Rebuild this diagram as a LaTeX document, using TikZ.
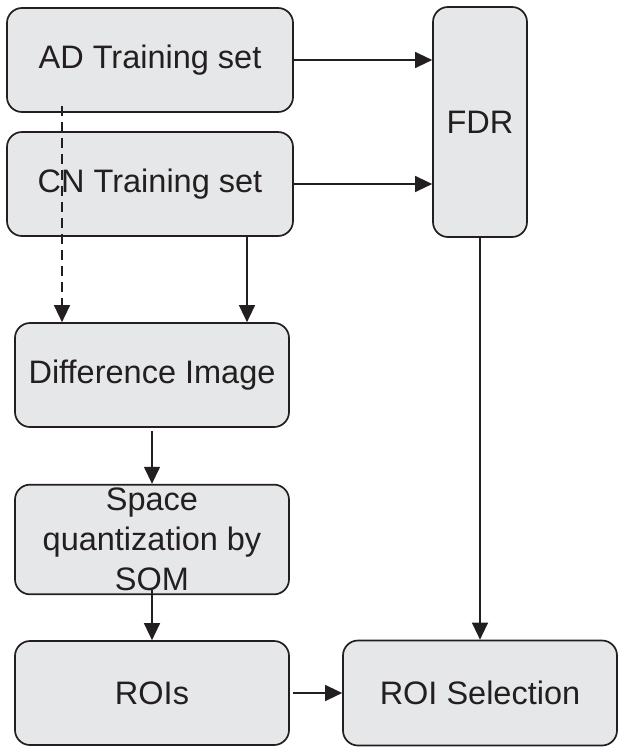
\documentclass[tikz,border=0pt]{standalone}
\usepackage{fontspec}
\setmainfont{Liberation Sans}
\usepackage{tikz}
\usetikzlibrary{ % tikz packages
    positioning,calc,
    arrows.meta
}
\definecolor{boxfill}{HTML}{E6E7E8}
\definecolor{ink}{HTML}{231F20}
\tikzset{blk/.style={
    draw=ink,
    fill=boxfill,
    line width=1.7pt,
    rounded corners=15pt,
    minimum width=274pt,
    minimum height=104pt,
    align=center,
    text=ink,
    font=\fontsize{32.5pt}{40pt}\selectfont
}}
\tikzset{flow/.style={
    draw=ink,
    line width=1.4pt,
    -{Triangle[length=17pt,width=16pt]}
}}

\begin{document}
\begin{tikzpicture}[x=1pt,y=1pt,node distance=124pt,on grid]
        \useasboundingbox (0,0) rectangle (625,-753);

        \node[blk,minimum width=286pt] (ad) at (150,-60) {AD Training set};
        \node[blk,minimum width=286pt] (cn) [below=of ad] {CN Training set};

        \node[blk,minimum width=94pt,minimum height=230pt] (fdr) at (480,-122) {FDR};

        \node[blk] (diff) [below=191pt of cn,xshift=2pt] {Difference Image};
        \node[blk,minimum height=105pt] (som) [below=164.5pt of diff] {Space\\quantization by\\SOM};
        \node[blk] (rois) [below=153.5pt of som] {ROIs};

        \node[blk,minimum height=105pt] (sel) [right=328pt of rois] {ROI Selection};

        % training sets to FDR
        \draw[flow] (ad.east) -- (ad.east -| fdr.west);
        \draw[flow] (cn.east) -- (cn.east -| fdr.west);

        % training sets to difference image
        \coordinate (dtop) at ([xshift=-88pt,yshift=7pt]ad.south);
        \draw[flow,dash pattern=on 10pt off 6pt] (dtop) -- (dtop |- diff.north);
        \coordinate (ctop) at ([xshift=97pt]cn.south);
        \draw[flow] (ctop) -- (ctop |- diff.north);

        % pipeline
        \draw[flow] ([yshift=-3pt]diff.south) -- (som.north);
        \draw[flow] ([yshift=5pt]som.south) -- (rois.north);
        \draw[flow] ([xshift=3pt]rois.east) -- (sel.west);
        \draw[flow] (fdr.south) -- (fdr.south |- sel.north);
    \end{tikzpicture}
\end{document}
